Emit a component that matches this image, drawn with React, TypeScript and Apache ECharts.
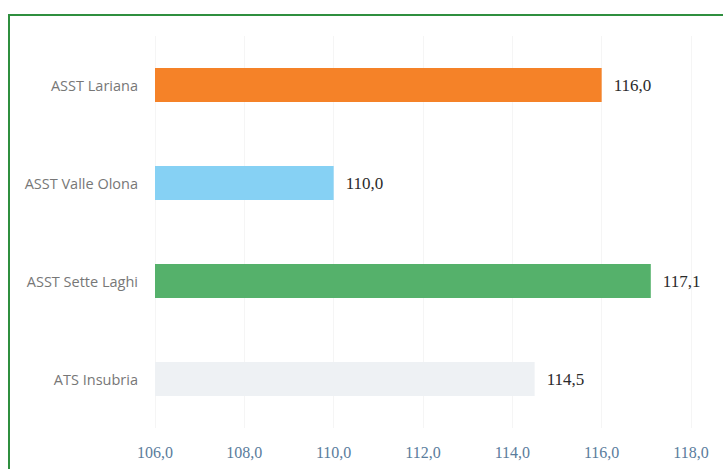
import React, { useEffect, useRef } from "react";
import * as echarts from "echarts";

const categories = ["ASST Lariana", "ASST Valle Olona", "ASST Sette Laghi", "ATS Insubria"];
const values = [116.0, 110.0, 117.1, 114.5];
const barColors = ["#f58228", "#86d1f4", "#55b16b", "#eef1f4"];
const xMin = 106;
const xMax = 118;
const xInterval = 2;

const fmt = (v: number) => v.toFixed(1).replace(".", ",");

export default function App() {
  const ref = useRef<HTMLDivElement>(null);
  useEffect(() => {
    if (!ref.current) return;
    const chart = echarts.init(ref.current, undefined, { renderer: "svg" });
    chart.setOption({
      animation: false,
      backgroundColor: "#ffffff",
      grid: { left: 155, right: 32, top: 36, bottom: 41, containLabel: false },
      xAxis: {
        type: "value",
        min: xMin,
        max: xMax,
        interval: xInterval,
        axisLine: { show: false },
        axisTick: { show: false },
        splitLine: { show: true, lineStyle: { color: "#f5f5f5", width: 1 } },
        axisLabel: {
          formatter: (v: number) => fmt(v),
          color: "#5a7c9c",
          fontFamily: "Liberation Serif, serif",
          fontSize: 16,
          margin: 16,
        },
      },
      yAxis: {
        type: "category",
        data: categories,
        inverse: true,
        axisLine: { show: false },
        axisTick: { show: false },
        splitLine: { show: false },
        axisLabel: {
          color: "#777777",
          fontFamily: "Open Sans, sans-serif",
          fontSize: 14.5,
          margin: 17,
        },
      },
      series: [
        {
          type: "bar",
          data: values.map((v, i) => ({ value: v, itemStyle: { color: barColors[i] } })),
          barWidth: 34,
          label: {
            show: true,
            position: "right",
            distance: 12,
            formatter: (p: any) => fmt(p.value),
            color: "#2a2a2a",
            fontFamily: "Liberation Serif, serif",
            fontSize: 17,
          },
        },
      ],
      graphic: [
        {
          type: "polyline",
          shape: { points: [[9, 469], [9, 15], [723, 15]] },
          style: { stroke: "#2f8f3f", lineWidth: 2, fill: "none" },
          silent: true,
        },
      ],
    });
    return () => chart.dispose();
  }, []);
  return (
    <div
      ref={ref}
      style={{ position: "fixed", left: 0, top: 0, width: 723, height: 469 }}
    />
  );
}
